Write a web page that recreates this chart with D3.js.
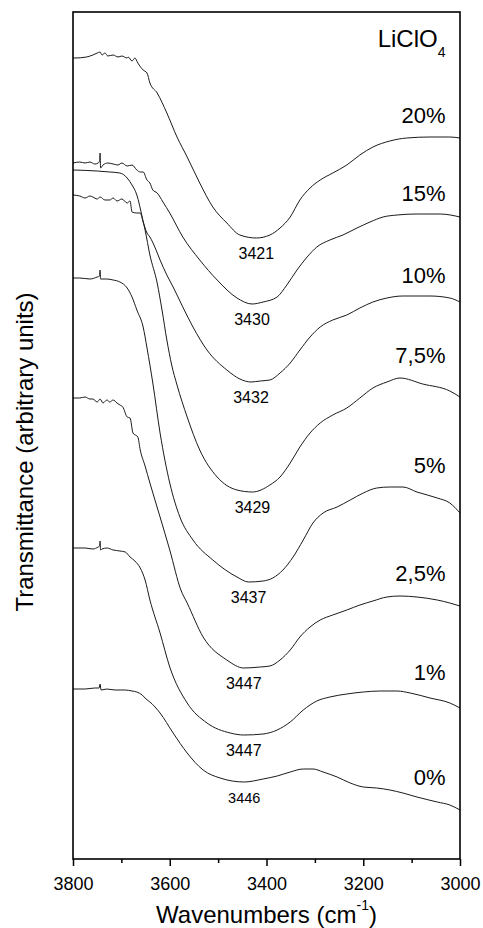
<!DOCTYPE html>
<html>
<head>
<meta charset="utf-8">
<script src="https://cdn.jsdelivr.net/npm/d3@7"></script>
<style>
  html, body { margin: 0; padding: 0; background: #fff; }
  svg { display: block; }
  text { font-family: "Liberation Sans", Arial, Helvetica, sans-serif; fill: #000; }
</style>
</head>
<body>
<svg id="chart" width="483" height="928"></svg>
<script>
// FTIR spectra, O–H stretching region, for increasing LiClO4 content.
// Each series: [wavenumber (cm-1), transmittance (arbitrary units, offset for stacking)]
const pct20 = [
  [3800,801],[3796,801],[3772,802],[3759,804],[3750,806],[3744,807],[3740,804],[3734,806],[3728,803],
  [3717,804],[3707,802],[3699,803],[3688,801],[3686,802],[3678,798],[3672,801],[3666,796],[3655,789],
  [3647,786],[3641,776],[3626,766],[3606,746],[3585,722],[3564,702],[3538,676],[3511,652],[3482,636],
  [3455,624],[3421,621],[3393,624],[3372,631],[3351,642],[3331,659],[3310,671],[3289,679],[3263,686],
  [3234,694],[3207,704],[3180,712],[3145,718],[3110,721],[3062,722],[3021,722],[3000,721]
];
const pct15 = [
  [3800,696],[3786,697],[3775,696],[3765,697],[3755,695],[3748,696],[3745,698],[3744,706],[3743,691],
  [3738,694],[3728,696],[3717,695],[3707,694],[3699,696],[3688,693],[3678,694],[3668,689],[3661,687],
  [3655,687],[3647,679],[3641,676],[3635,669],[3626,666],[3614,657],[3600,646],[3573,622],[3538,599],
  [3502,579],[3461,561],[3430,555],[3407,557],[3378,562],[3358,574],[3337,589],[3316,602],[3296,612],
  [3269,619],[3242,624],[3213,631],[3186,637],[3159,642],[3130,644],[3089,645],[3041,645],[3000,642]
];
const pct10 = [
  [3800,664],[3786,663],[3775,661],[3765,663],[3759,662],[3750,660],[3744,662],[3734,659],[3724,659],
  [3717,661],[3709,658],[3699,660],[3688,656],[3682,658],[3678,647],[3668,646],[3661,646],[3655,637],
  [3647,626],[3641,622],[3630,611],[3620,599],[3606,584],[3593,572],[3573,552],[3552,532],[3523,509],
  [3482,489],[3455,480],[3432,477],[3413,478],[3393,479],[3372,486],[3351,496],[3331,509],[3310,522],
  [3289,532],[3263,539],[3234,544],[3207,551],[3180,557],[3151,561],[3118,563],[3062,563],[3021,561],
  [3000,557]
];
const pct7_5 = [
  [3800,689],[3750,688],[3724,687],[3703,686],[3688,681],[3678,674],[3668,664],[3657,642],[3651,629],
  [3641,604],[3626,576],[3616,549],[3606,519],[3596,494],[3585,474],[3564,442],[3538,409],[3502,382],
  [3461,369],[3429,367],[3393,374],[3372,382],[3351,396],[3331,412],[3310,426],[3289,436],[3263,444],
  [3234,451],[3207,461],[3180,471],[3151,477],[3124,481],[3077,475],[3021,468],[3000,462]
];
const pct5 = [
  [3800,581],[3786,581],[3765,580],[3750,582],[3745,583],[3744,589],[3743,580],[3730,580],[3717,579],
  [3703,577],[3688,571],[3678,562],[3668,549],[3655,532],[3647,511],[3635,476],[3620,426],[3600,376],
  [3579,342],[3552,319],[3511,299],[3461,282],[3437,277],[3407,278],[3387,281],[3366,289],[3345,302],
  [3324,319],[3304,336],[3283,346],[3254,352],[3227,359],[3200,366],[3172,371],[3145,372],[3118,372],
  [3089,367],[3047,361],[3021,356],[3000,346]
];
const pct2_5 = [
  [3800,461],[3796,461],[3786,461],[3775,462],[3765,460],[3759,460],[3750,457],[3744,460],[3738,456],
  [3730,459],[3724,457],[3717,459],[3709,456],[3703,454],[3697,452],[3688,442],[3682,441],[3676,426],
  [3666,422],[3661,409],[3651,393],[3641,376],[3620,342],[3600,309],[3577,269],[3564,256],[3531,222],
  [3482,199],[3447,191],[3413,192],[3393,193],[3372,199],[3351,209],[3331,222],[3310,232],[3289,239],
  [3263,244],[3234,249],[3207,254],[3180,258],[3151,262],[3124,263],[3089,262],[3047,259],[3021,256],
  [3000,253]
];
const pct1 = [
  [3800,311],[3796,311],[3775,311],[3759,310],[3748,312],[3745,313],[3744,318],[3743,309],[3740,310],
  [3730,311],[3717,309],[3703,308],[3692,307],[3682,302],[3672,298],[3661,291],[3651,279],[3641,259],
  [3620,226],[3600,192],[3564,156],[3523,136],[3475,126],[3447,124],[3407,125],[3378,129],[3351,137],
  [3324,149],[3296,158],[3269,162],[3234,165],[3200,167],[3165,168],[3130,168],[3103,166],[3062,161],
  [3021,156],[3000,151]
];
const pct0 = [
  [3800,170],[3796,170],[3775,170],[3755,171],[3746,171],[3744,175],[3742,169],[3730,170],[3713,169],
  [3692,169],[3678,168],[3668,167],[3657,164],[3649,160],[3641,157],[3620,146],[3593,126],[3564,106],
  [3531,89],[3496,81],[3446,77],[3407,80],[3378,83],[3351,87],[3324,90],[3304,90],[3283,87],[3254,82],
  [3227,76],[3200,72],[3172,71],[3145,69],[3118,66],[3089,62],[3047,57],[3021,54],[3000,49]
];

// Salt contents, band minima (cm-1) and the level of each content label
const concentrations = ["20%", "15%", "10%", "7,5%", "5%", "2,5%", "1%", "0%"];
const bandMinima = [3421, 3430, 3432, 3429, 3437, 3447, 3447, 3446];
const labelLevels = [736, 658, 576, 496, 386, 278, 179, 74];
const majorTicks = [3800, 3600, 3400, 3200, 3000];
const minorTicks = [3700, 3500, 3300, 3100];

const spectra = [pct20, pct15, pct10, pct7_5, pct5, pct2_5, pct1, pct0].map((data, i) => ({
  data,
  label: concentrations[i],
  minimum: bandMinima[i],
  level: labelLevels[i]
}));

const svg = d3.select("#chart");
const margin = { left: 73, right: 23, top: 12, bottom: 69 };
const W = 483, H = 928;

const x = d3.scaleLinear().domain([3800, 3000]).range([margin.left, W - margin.right]);
const y = d3.scaleLinear().domain([0, 847]).range([H - margin.bottom, margin.top]);

const line = d3.line()
  .x(d => x(d[0]))
  .y(d => y(d[1]))
  .curve(d3.curveMonotoneX);

// spectra
svg.append("g")
  .selectAll("path")
  .data(spectra)
  .join("path")
  .attr("d", d => line(d.data))
  .attr("fill", "none")
  .attr("stroke", "#1a1a1a")
  .attr("stroke-width", 1)
  .attr("stroke-linejoin", "round");

// band minimum labels, just under each trough
svg.append("g")
  .selectAll("text")
  .data(spectra)
  .join("text")
  .attr("x", d => x(d.minimum))
  .attr("y", d => {
    const pt = d.data.find(p => p[0] === d.minimum);
    return y(pt[1]) + 21;
  })
  .attr("text-anchor", "middle")
  .attr("font-size", (d, i) => i === spectra.length - 1 ? "14.5px" : "16px")
  .text(d => d.minimum);

// content labels on the right
svg.append("g")
  .selectAll("text")
  .data(spectra)
  .join("text")
  .attr("x", x(3030))
  .attr("y", d => y(d.level))
  .attr("text-anchor", "end")
  .attr("font-size", "22px")
  .text(d => d.label);

// salt name
const salt = svg.append("text")
  .attr("x", x(3030))
  .attr("y", 47)
  .attr("text-anchor", "end")
  .attr("font-size", "24px");
salt.append("tspan").text("LiClO");
salt.append("tspan").attr("font-size", "14px").attr("dy", 10).text("4");

// x axis: major and minor ticks, pointing outwards
const xAxis = svg.append("g")
  .attr("transform", `translate(0,${H - margin.bottom})`)
  .call(d3.axisBottom(x).tickValues(majorTicks).tickSize(7).tickPadding(11).tickFormat(d3.format("d")));
xAxis.select(".domain").remove();
xAxis.selectAll(".tick line").attr("stroke", "#000").attr("stroke-width", 1.5);
xAxis.selectAll(".tick text")
  .attr("font-size", "18px")
  .attr("font-family", "'Liberation Sans', Arial, sans-serif")
  .attr("fill", "#000");

const xMinor = svg.append("g")
  .attr("transform", `translate(0,${H - margin.bottom})`)
  .call(d3.axisBottom(x).tickValues(minorTicks).tickSize(4).tickFormat(""));
xMinor.select(".domain").remove();
xMinor.selectAll(".tick line").attr("stroke", "#000").attr("stroke-width", 1.5);

// plot frame
svg.append("rect")
  .attr("x", margin.left)
  .attr("y", margin.top)
  .attr("width", W - margin.left - margin.right)
  .attr("height", H - margin.top - margin.bottom)
  .attr("fill", "none")
  .attr("stroke", "#000")
  .attr("stroke-width", 1.6);

// axis titles
const xTitle = svg.append("text")
  .attr("x", (margin.left + W - margin.right) / 2)
  .attr("y", 923)
  .attr("text-anchor", "middle")
  .attr("font-size", "24px");
xTitle.append("tspan").text("Wavenumbers (cm");
xTitle.append("tspan").attr("font-size", "14px").attr("dy", -13).text("-1");
xTitle.append("tspan").attr("dy", 13).text(")");

svg.append("text")
  .attr("transform", `translate(33,452) rotate(-90)`)
  .attr("text-anchor", "middle")
  .attr("font-size", "24px")
  .text("Transmittance (arbitrary units)");
</script>
</body>
</html>
